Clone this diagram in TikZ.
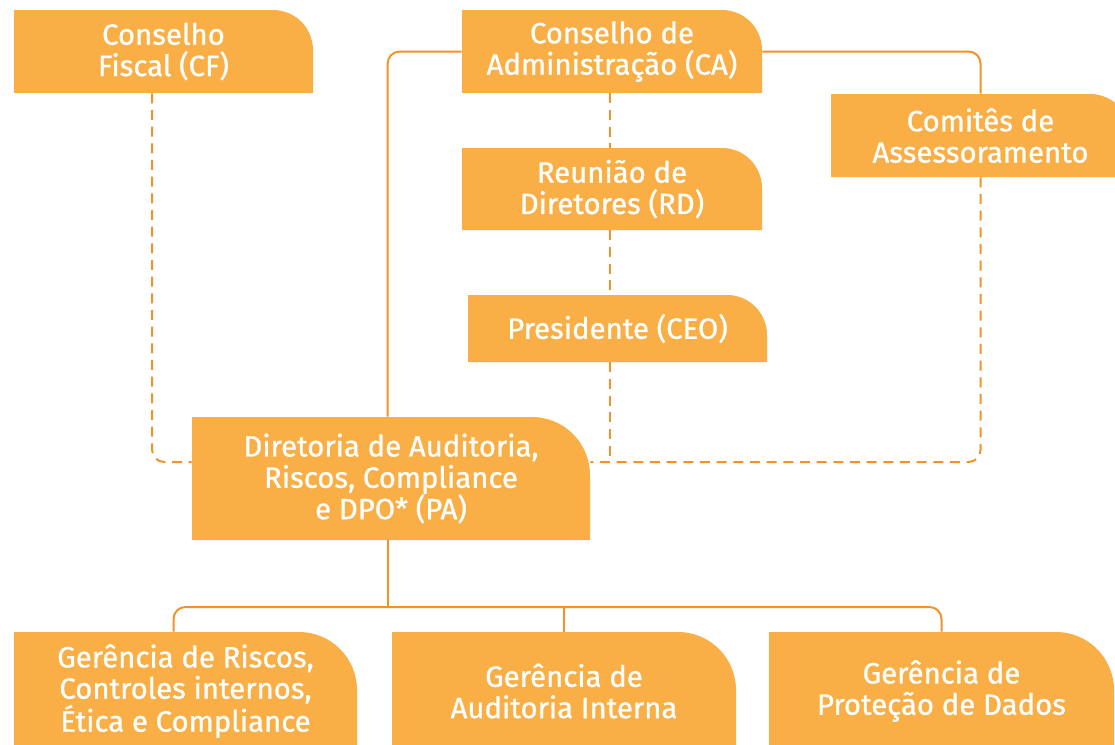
\documentclass[tikz,border=0pt]{standalone}
\usepackage{fontspec}
\setmainfont{Fira Sans}[FakeBold=0.9]
\usetikzlibrary{positioning}

\definecolor{boxfill}{HTML}{F9AF45}
\definecolor{linkline}{HTML}{F39229}

\tikzset{
  orgtext/.style={rectangle, inner sep=0pt, align=center, text=white,
    font=\fontsize{22}{23.5}\selectfont},
  solidlink/.style={draw=linkline, line width=1.5pt, rounded corners=9pt},
  dashlink/.style={solidlink, dash pattern=on 7.5pt off 5pt},
}

% box with one rounded corner: name, x1, y1, x2, y2, radius, text
\newcommand{\orgbox}[7]{%
  \fill[boxfill] (#2,#5) -- (#2,#3) -- ({#4-#6},#3)
    arc[start angle=270, end angle=360, radius=#6] -- (#4,#5) -- cycle;
  \node[orgtext, minimum width={(#4-#2)*0.75pt}, minimum height={(#5-#3)*0.75pt}]
    (#1) at ({(#2+#4)/2},{(#3+#5)/2}) {#7};
}

\begin{document}
\begin{tikzpicture}[x=0.75pt,y=0.75pt,yscale=-1,xscale=1]
\useasboundingbox (0,0) rectangle (1115,744);
\clip (0,0) rectangle (1115,744);

% Boxes
\orgbox{CF}{14}{10}{313}{93}{40}{Conselho\\Fiscal (CF)}
\orgbox{CA}{462}{10}{762}{93}{40}{Conselho de\\Administração (CA)}
\orgbox{Com}{831}{94}{1130}{177}{40}{Comitês de\\Assessoramento}
\orgbox{RD}{462}{148}{762}{230}{40}{Reunião de\\Diretores (RD)}
\orgbox{CEO}{468}{295}{767}{362}{40}{Presidente (CEO)}
\orgbox{PA}{192}{417}{590}{540}{58}{Diretoria de Auditoria,\\Riscos, Compliance\\e DPO* (PA)}
\orgbox{G1}{14}{632}{357}{750}{58}{Gerência de Riscos,\\Controles internos,\\Ética e Compliance}
\orgbox{G2}{392}{632}{736}{750}{58}{Gerência de\\Auditoria Interna}
\orgbox{G3}{769}{632}{1114}{750}{58}{Gerência de\\Proteção de Dados}

\coordinate (dashY) at (0,462);
\coordinate (busY) at (0,607);

% Solid links
\draw[solidlink] (CA.west) -| ([xshift=-2.5pt]PA.north);
\draw[solidlink] (CA.east) -| (Com.north);
\draw[solidlink] ([xshift=-2.5pt]PA.south) -- ([xshift=-2.5pt]PA.south |- busY);
\draw[solidlink] ([xshift=-9pt]G1.north) |- (G3.north |- busY) -- (G3.north);
\draw[solidlink] (G2.north) -- (G2.north |- busY);

% Dashed links
\draw[dashlink] ([xshift=-1.5pt]CA.south) -- ([xshift=-1.5pt]RD.north);
\draw[dashlink] ([xshift=-1.5pt]RD.south) -- ([xshift=-1.5pt]RD.south |- CEO.north);
\draw[dashlink] ([xshift=-1.5pt]RD.south |- CEO.south) -- ([xshift=-1.5pt]RD.south |- dashY);
\draw[dashlink] (Com.south) |- (PA.east |- dashY);
\draw[dashlink] ([xshift=-8.5pt]CF.south) |- (PA.west |- dashY);

\end{tikzpicture}
\end{document}
